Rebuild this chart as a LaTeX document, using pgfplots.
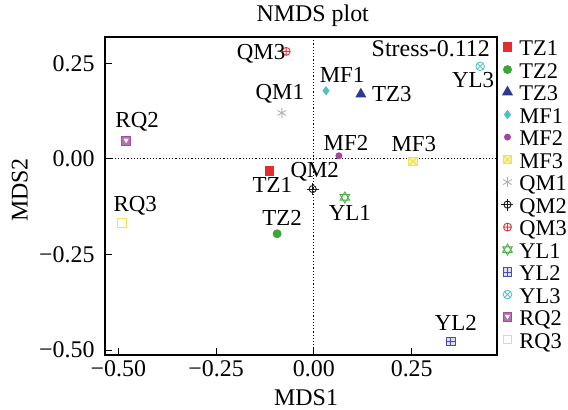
\documentclass[border=0pt]{standalone}
\usepackage{fontspec}
\setmainfont{Liberation Serif}
\usepackage{pgfplots}
\pgfplotsset{compat=1.18}
\usetikzlibrary{plotmarks}

\newcommand\fs{\fontsize{24}{28}\selectfont}
\newcommand\labfont{\fontsize{23}{27}\selectfont}
\newcommand\legfont{\fontsize{22.5}{26}\selectfont}

\definecolor{cTZa}{HTML}{E52D2D}
\definecolor{cTZb}{HTML}{3DA53A}
\definecolor{cTZc}{HTML}{2B3990}
\definecolor{cMFa}{HTML}{4FC1C5}
\definecolor{cMFb}{HTML}{A3469C}
\definecolor{cMFc}{HTML}{EDE34A}
\definecolor{cQMa}{HTML}{B5AFAF}
\definecolor{cQMb}{HTML}{1A1A1A}
\definecolor{cQMc}{HTML}{E8343B}
\definecolor{cYLa}{HTML}{4DB04A}
\definecolor{cYLb}{HTML}{4A4FA0}
\definecolor{cYLc}{HTML}{5BC4C6}
\definecolor{cRQb}{HTML}{A04C9F}
\definecolor{cRQc}{HTML}{F2E356}

% square with a cross
\pgfdeclareplotmark{sqx}{%
  \pgfpathrectangle{\pgfqpoint{-\pgfplotmarksize}{-\pgfplotmarksize}}{\pgfqpoint{2\pgfplotmarksize}{2\pgfplotmarksize}}%
  \pgfusepathqfillstroke
  \pgfpathmoveto{\pgfqpoint{-\pgfplotmarksize}{-\pgfplotmarksize}}\pgfpathlineto{\pgfqpoint{\pgfplotmarksize}{\pgfplotmarksize}}%
  \pgfpathmoveto{\pgfqpoint{-\pgfplotmarksize}{\pgfplotmarksize}}\pgfpathlineto{\pgfqpoint{\pgfplotmarksize}{-\pgfplotmarksize}}%
  \pgfusepathqstroke}
% square with a plus
\pgfdeclareplotmark{sqplus}{%
  \pgfpathrectangle{\pgfqpoint{-\pgfplotmarksize}{-\pgfplotmarksize}}{\pgfqpoint{2\pgfplotmarksize}{2\pgfplotmarksize}}%
  \pgfusepathqfillstroke
  \pgfpathmoveto{\pgfqpoint{-\pgfplotmarksize}{0pt}}\pgfpathlineto{\pgfqpoint{\pgfplotmarksize}{0pt}}%
  \pgfpathmoveto{\pgfqpoint{0pt}{\pgfplotmarksize}}\pgfpathlineto{\pgfqpoint{0pt}{-\pgfplotmarksize}}%
  \pgfusepathqstroke}
% circle with a long plus
\pgfdeclareplotmark{target}{%
  \pgfpathcircle{\pgfpointorigin}{0.6\pgfplotmarksize}%
  \pgfusepathqstroke
  \pgfpathmoveto{\pgfqpoint{-\pgfplotmarksize}{0pt}}\pgfpathlineto{\pgfqpoint{\pgfplotmarksize}{0pt}}%
  \pgfpathmoveto{\pgfqpoint{0pt}{\pgfplotmarksize}}\pgfpathlineto{\pgfqpoint{0pt}{-\pgfplotmarksize}}%
  \pgfusepathqstroke}
% two triangles
\pgfdeclareplotmark{david}{%
  \pgfpathmoveto{\pgfqpoint{0pt}{\pgfplotmarksize}}%
  \pgfpathlineto{\pgfqpoint{-0.866\pgfplotmarksize}{-0.5\pgfplotmarksize}}%
  \pgfpathlineto{\pgfqpoint{0.866\pgfplotmarksize}{-0.5\pgfplotmarksize}}%
  \pgfpathclose
  \pgfpathmoveto{\pgfqpoint{0pt}{-\pgfplotmarksize}}%
  \pgfpathlineto{\pgfqpoint{-0.866\pgfplotmarksize}{0.5\pgfplotmarksize}}%
  \pgfpathlineto{\pgfqpoint{0.866\pgfplotmarksize}{0.5\pgfplotmarksize}}%
  \pgfpathclose
  \pgfusepathqstroke}
% square with a triangle inside
\pgfdeclareplotmark{sqtri}{%
  \pgfpathrectangle{\pgfqpoint{-\pgfplotmarksize}{-\pgfplotmarksize}}{\pgfqpoint{2\pgfplotmarksize}{2\pgfplotmarksize}}%
  \pgfusepathqfillstroke
  \pgfpathmoveto{\pgfqpoint{-0.6\pgfplotmarksize}{0.5\pgfplotmarksize}}%
  \pgfpathlineto{\pgfqpoint{0.6\pgfplotmarksize}{0.5\pgfplotmarksize}}%
  \pgfpathlineto{\pgfqpoint{0pt}{-0.55\pgfplotmarksize}}%
  \pgfpathclose
  \pgfsetfillcolor{white}%
  \pgfusepathqfill}

\pgfplotsset{
  pt/.style={only marks, line width=0.9bp,
    legend image code/.code={%
      \pgfpathrectangle{\pgfqpoint{-5bp}{-1bp}}{\pgfqpoint{17bp}{2bp}}\pgfusepath{use as bounding box}%
      \draw[##1] plot coordinates {(0bp,0bp)};}},
  lab/.style n args={3}{nodes near coords={#1},
    nodes near coords style={anchor=center, xshift=#2, yshift=#3, font=\labfont, inner sep=0pt, text=black}},
}

\begin{document}
\begin{tikzpicture}
\begin{axis}[
    scale only axis,
    width=392bp, height=318bp,
    xmin=-0.534, xmax=0.468,
    ymin=-0.513, ymax=0.3186,
    axis line style={line width=1.1bp},
    xtick={-0.5,-0.25,0,0.25},
    xticklabels={−0.50,−0.25,0.00,0.25},
    ytick={-0.5,-0.25,0,0.25},
    yticklabels={−0.50,−0.25,0.00,0.25},
    xtick pos=bottom, ytick pos=left,
    tick align=inside,
    major tick length=7bp,
    tick style={line width=1bp, black},
    tick label style={font=\fs},
    xticklabel style={yshift=-2bp},
    yticklabel style={xshift=-7bp},
    title={NMDS plot},
    title style={font=\fs, inner sep=0pt, anchor=south, at={(0.53,1)}, yshift=4bp},
    xlabel={MDS1},
    xlabel style={font=\fs, inner sep=0pt, anchor=north, at={(axis description cs:0.513,0)}, yshift=-34bp},
    ylabel={MDS2},
    ylabel style={font=\fs, inner sep=0pt, anchor=center, at={(axis description cs:-0.217,0.519)}},
    legend style={at={(1.014,0.995)}, anchor=north west, draw=none, fill=none,
        inner sep=0pt, outer sep=0pt,
        font=\legfont, row sep=5.5bp, column sep=0bp,
        nodes={inner sep=0pt, text height=17bp, text depth=0bp}},
    legend cell align=left,
    legend entries={TZ1,TZ2,TZ3,MF1,MF2,MF3,QM1,QM2,QM3,YL1,YL2,YL3,RQ2,RQ3},
    clip=false,
]
\addplot[black, line width=1bp, dash pattern=on 1.2bp off 2bp, forget plot] coordinates {(0,-0.513) (0,0.3186)};
\addplot[black, line width=1bp, dash pattern=on 1.2bp off 2bp, forget plot] coordinates {(-0.534,0) (0.468,0)};

\addplot[pt, color=cTZa, mark=square*, mark size=4.3bp, lab={TZ1}{3bp}{-14bp}] coordinates {(-0.114,-0.031)};
\addplot[pt, color=cTZb, mark=*, mark size=4bp, lab={TZ2}{5bp}{16bp}] coordinates {(-0.094,-0.196)};
\addplot[pt, color=cTZc, mark=triangle*, mark size=5.5bp, lab={TZ3}{31bp}{0bp}] coordinates {(0.120,0.169)};
\addplot[pt, color=cMFa, mark=diamond*, mark size=4bp, lab={MF1}{16bp}{16bp}] coordinates {(0.031,0.178)};
\addplot[pt, color=cMFb, mark=*, mark size=3bp, lab={MF2}{7bp}{13bp}] coordinates {(0.064,0.008)};
\addplot[pt, color=cMFc, mark=sqx, mark size=4.3bp, mark options={fill=cMFc!45}, lab={MF3}{1bp}{17bp}] coordinates {(0.253,-0.007)};
\addplot[pt, color=cQMa, mark=asterisk, mark size=5bp, lab={QM1}{-2bp}{19bp}] coordinates {(-0.082,0.120)};
\addplot[pt, color=cQMb, mark=target, mark size=6bp, lab={QM2}{2bp}{17bp}] coordinates {(-0.003,-0.079)};
\addplot[pt, color=cQMc, mark=oplus, mark size=4bp, lab={QM3}{-25bp}{-2bp}] coordinates {(-0.071,0.281)};
\addplot[pt, color=cYLa, mark=david, mark size=5.5bp, lab={YL1}{5bp}{-15bp}] coordinates {(0.079,-0.101)};
\addplot[pt, color=cYLb, mark=sqplus, mark size=4.3bp, mark options={fill=cYLb!20}, lab={YL2}{5bp}{19bp}] coordinates {(0.350,-0.478)};
\addplot[pt, color=cYLc, mark=otimes, mark size=4.3bp, lab={YL3}{-7bp}{-14bp}] coordinates {(0.425,0.242)};
\addplot[pt, color=cRQb, mark=sqtri, mark size=4.3bp, mark options={fill=cRQb!80}, lab={RQ2}{11bp}{19bp}] coordinates {(-0.480,0.047)};
\addplot[pt, color=cRQc, mark=square, mark size=4.3bp, lab={RQ3}{13bp}{17bp}] coordinates {(-0.490,-0.167)};

\node[anchor=base east, font=\fs, inner sep=0pt] at (rel axis cs:0.982,0.938) {Stress-0.112};
\end{axis}
\pgfresetboundingbox
\path (current axis.south west) ++(-105bp,-55bp) rectangle ++(568bp,410bp);
\end{tikzpicture}
\end{document}
